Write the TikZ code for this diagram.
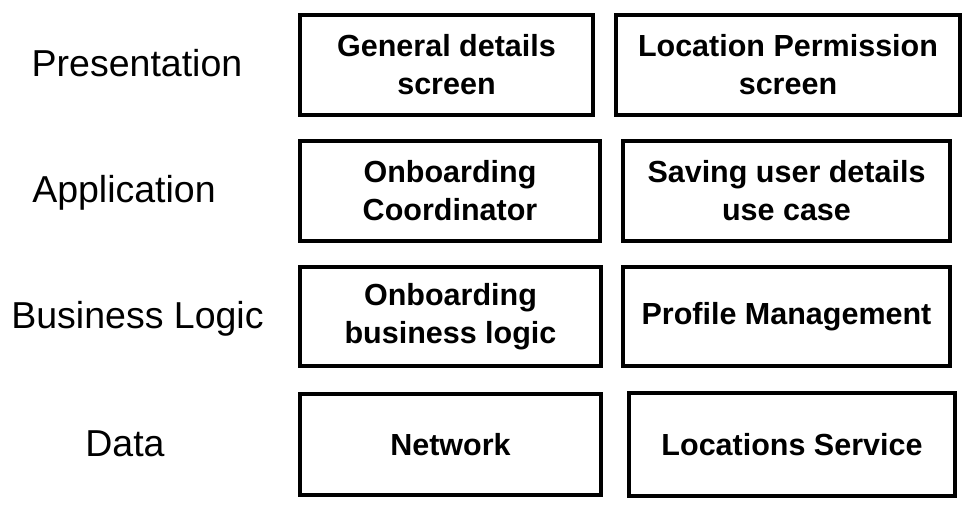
\documentclass[tikz,border=0pt]{standalone}
\usepackage{fontspec}
\setmainfont{Liberation Sans}
\begin{document}
\begin{tikzpicture}[x=1pt,y=-1pt,
  layerbox/.style={draw=black, line width=4pt, inner sep=0pt, align=center,
    font=\fontsize{30.5}{38}\selectfont\bfseries},
  layerlabel/.style={inner sep=0pt, anchor=base, font=\fontsize{37.5}{42}\selectfont}]
\useasboundingbox[fill=white] (0,0) rectangle (969,505);
% layer labels
\node[layerlabel] (lp) at (137,77) {Presentation};
\node[layerlabel] (la) at (124,203) {Application};
\node[layerlabel] (lb) at (137.5,328) {Business Logic};
\node[layerlabel] (ld) at (125,456) {Data};
% boxes
\node[layerbox, minimum width=293pt, minimum height=100pt] (b1) at (446.5,65) {General details\\screen};
\node[layerbox, minimum width=344pt, minimum height=100pt] (b2) at (788,65) {Location Permission\\screen};
\node[layerbox, minimum width=300pt, minimum height=100pt] (b3) at (450,191) {Onboarding\\Coordinator};
\node[layerbox, minimum width=327pt, minimum height=100pt] (b4) at (786.5,191) {Saving user details\\use case};
\node[layerbox, minimum width=301pt, minimum height=99pt] (b5) at (450.5,316.5) {Onboarding\\business logic};
\node[layerbox, minimum width=327pt, minimum height=99pt] (b6) at (786.5,316.5) {Profile Management};
\node[layerbox, minimum width=301pt, minimum height=101pt] (b7) at (450.5,444.5) {Network};
\node[layerbox, minimum width=326pt, minimum height=103pt] (b8) at (792,444.5) {Locations Service};
\end{tikzpicture}
\end{document}
